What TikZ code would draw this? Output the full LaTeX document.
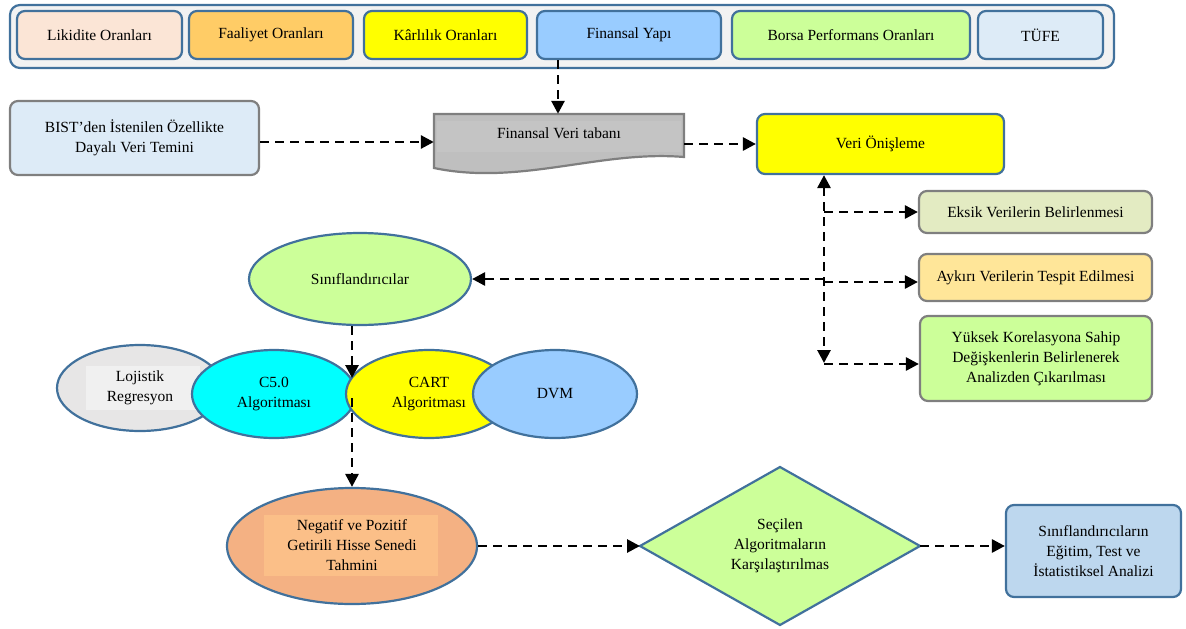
\documentclass[tikz,border=0pt]{standalone}
\usepackage{fontspec}
\setmainfont{Liberation Serif}
\usetikzlibrary{arrows.meta,shapes.geometric}
\definecolor{bordblue}{HTML}{41719C}
\definecolor{bordgray}{HTML}{7F7F7F}
\definecolor{contfill}{HTML}{F2F2F2}
\definecolor{likfill}{HTML}{FBE5D6}
\definecolor{faafill}{HTML}{FFCC66}
\definecolor{yel}{HTML}{FFFF00}
\definecolor{lblue}{HTML}{99CCFF}
\definecolor{lgreen}{HTML}{CCFF99}
\definecolor{pale}{HTML}{DDEBF7}
\definecolor{dbgray}{HTML}{BFBFBF}
\definecolor{dbinner}{HTML}{C4C4C4}
\definecolor{eksfill}{HTML}{E3EBC2}
\definecolor{aykfill}{HTML}{FFE699}
\definecolor{logfill}{HTML}{E7E6E6}
\definecolor{loginner}{HTML}{F0F0F0}
\definecolor{cyanfill}{HTML}{00FFFF}
\definecolor{negfill}{HTML}{F4B183}
\definecolor{neginner}{HTML}{FBBF88}
\definecolor{finfill}{HTML}{BDD7EE}
\begin{document}
\begin{tikzpicture}[x=1pt,y=-1pt,
  font=\fontsize{15.5}{20}\selectfont,
  bluebox/.style={draw=bordblue, line width=2.2pt, rounded corners=8pt, align=center, inner sep=0pt},
  graybox/.style={draw=bordgray, line width=2.2pt, rounded corners=8pt, align=center, inner sep=0pt},
  ell/.style={ellipse, draw=bordblue, line width=2.2pt, inner sep=0pt, align=center},
  flow/.style={line width=2.8pt, dash pattern=on 9pt off 6pt, -{Triangle[length=13pt,width=13pt]}},
  flowboth/.style={line width=2.8pt, dash pattern=on 9pt off 6pt, {Triangle[length=13pt,width=13pt]}-{Triangle[length=13pt,width=13pt]}},
  txt/.style={align=center, inner sep=0pt}]
\useasboundingbox (0,0) rectangle (1186,629);

% top container
\node[draw=bordblue, line width=2.2pt, fill=contfill, rounded corners=10pt, minimum width=1104pt, minimum height=63pt, inner sep=0pt] (cont) at (562,36.5) {};
\node[bluebox, fill=likfill, minimum width=165pt, minimum height=48pt] (lik) at (99.5,35) {Likidite Oranları};
\node[bluebox, fill=faafill, minimum width=164pt, minimum height=48pt] (faa) at (271,35) {Faaliyet Oranları};
\node[bluebox, fill=yel, minimum width=163pt, minimum height=48pt] (kar) at (445.5,35) {Kârlılık Oranları};
\node[bluebox, fill=lblue, minimum width=184pt, minimum height=48pt] (fin) at (629,35) {Finansal Yapı};
\node[bluebox, fill=lgreen, minimum width=238pt, minimum height=48pt] (bor) at (851,35) {Borsa Performans Oranları};
\node[bluebox, fill=pale, minimum width=125pt, minimum height=48pt] (tufe) at (1040.5,35) {TÜFE};

% second row
\node[graybox, fill=pale, minimum width=249pt, minimum height=74pt] (bist) at (134.5,138) {BIST’den İstenilen Özellikte\\Dayalı Veri Temini};
\draw[draw=bordgray, line width=2.2pt, fill=dbgray] (434,114) -- (684,114) -- (684,157)
  .. controls (600,150) and (520,186) .. (434,168) -- cycle;
\fill[dbinner] (437,121) rectangle (681,152);
\node[inner sep=0pt, minimum width=250pt, minimum height=58pt] (fvt) at (559,143) {};
\node[txt] (fvtt) at (559,133) {Finansal Veri tabanı};
\node[bluebox, fill=yel, minimum width=247pt, minimum height=60pt] (veri) at (880.5,144) {Veri Önişleme};

% preprocessing boxes
\node[graybox, fill=eksfill, minimum width=233pt, minimum height=42pt] (eksik) at (1035.5,212) {Eksik Verilerin Belirlenmesi};
\node[graybox, fill=aykfill, minimum width=233pt, minimum height=47pt] (aykiri) at (1035.5,277.5) {Aykırı Verilerin Tespit Edilmesi};
\node[graybox, fill=lgreen, minimum width=232pt, minimum height=85pt] (yuksek) at (1036,358.5) {Yüksek Korelasyona Sahip\\Değişkenlerin Belirlenerek\\Analizden Çıkarılması};

% classifiers
\node[ell, fill=lgreen, minimum width=222pt, minimum height=92pt] (sinif) at (360,279) {Sınıflandırıcılar};
\node[ell, fill=logfill, minimum width=166pt, minimum height=86pt] (loj) at (140,388) {};
\fill[loginner] (86,366) rectangle (200,410);
\node[txt] (lojt) at (140,388) {Lojistik\\Regresyon};
\node[ell, fill=cyanfill, minimum width=164pt, minimum height=88pt] (c50) at (274,394) {C5.0\\Algoritması};
\node[ell, fill=yel, minimum width=166pt, minimum height=88pt] (cart) at (429,394) {CART\\Algoritması};
\node[ell, fill=lblue, minimum width=164pt, minimum height=88pt] (dvm) at (555,394) {DVM};

% bottom row
\node[ell, fill=negfill, minimum width=250pt, minimum height=116pt] (neg) at (352,546) {};
\fill[neginner] (264,515) rectangle (438,576);
\node[txt] (negt) at (352,545) {Negatif ve Pozitif\\Getirili Hisse Senedi\\Tahmini};
\coordinate (diaL) at (640,546);
\coordinate (diaT) at (780,467);
\coordinate (diaR) at (920,546);
\coordinate (diaB) at (780,625);
\draw[draw=bordblue, line width=2.2pt, fill=lgreen] (diaL) -- (diaT) -- (diaR) -- (diaB) -- cycle;
\node[txt] (dia) at (780,546) {Seçilen\\Algoritmaların\\Karşılaştırılmas};
\node[bluebox, fill=finfill, minimum width=175pt, minimum height=92pt] (final) at (1093.5,551) {Sınıflandırıcıların\\Eğitim, Test ve\\İstatistiksel Analizi};

% connectors
\draw[flow] (fin.south -| 558,0) -- (fvt.north -| 558,0);
\draw[flow] (bist.east |- 0,142) -- (fvt.west |- 0,142);
\draw[flow] (fvt.east |- veri.west) -- (veri.west);
\coordinate (vtop) at (veri.south -| 824,0);
\coordinate (vbot) at (824,363);
\draw[flowboth] (vtop) -- (vbot);
\draw[flow] (824,212) -- (eksik.west);
\draw[flow] (824,282) -- (aykiri.west |- 0,282);
\draw[flow] (824,364) -- (yuksek.west |- 0,364);
\draw[flow] (sinif.east -| vtop) -- (sinif.east);
\coordinate (j1) at (352,378);
\coordinate (j2) at (352,398);
\draw[flow] (sinif.south -| j1) -- (j1);
\draw[flow] (j2) -- (j2 |- neg.north);
\draw[flow] (neg.east) -- (diaL);
\draw[flow] (diaR) -- (diaR -| final.west);
\end{tikzpicture}
\end{document}
